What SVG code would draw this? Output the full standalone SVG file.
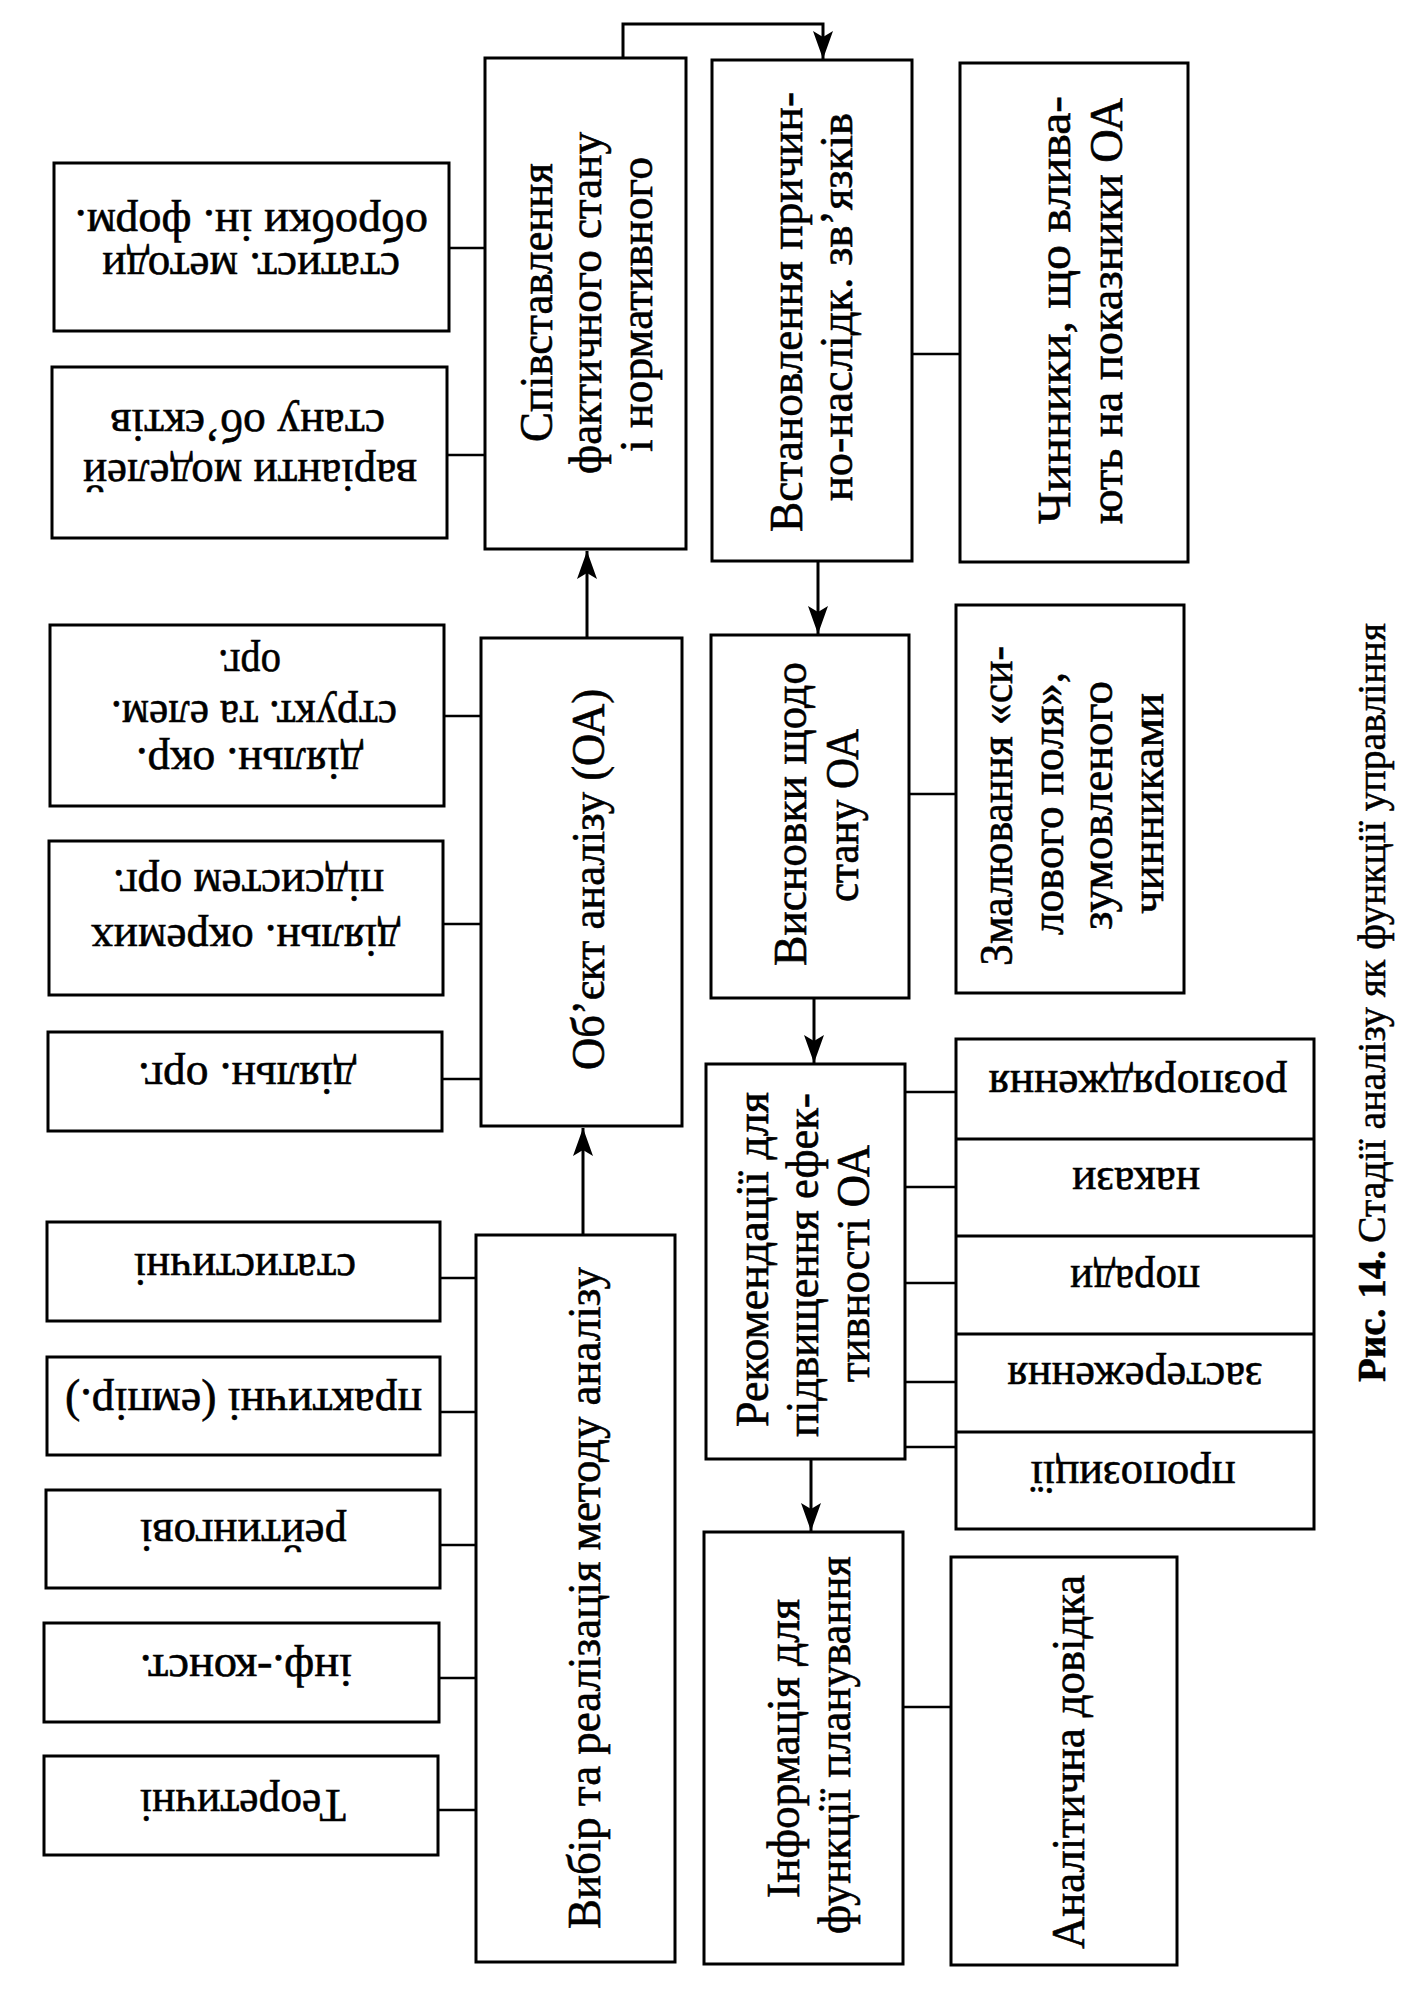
<svg xmlns="http://www.w3.org/2000/svg" width="1425" height="1996" viewBox="0 0 1425 1996">
<style>
  .box { fill: #ffffff; stroke: #000000; stroke-width: 3; }
  .conn { stroke: #000000; stroke-width: 2.5; fill: none; }
  .div { stroke: #000000; stroke-width: 3; fill: none; }
  .arr { stroke: #000000; stroke-width: 3; fill: none; }
  .t { font-family: "Liberation Serif", "Times New Roman", serif; font-size: 46px; fill: #000000; stroke: #000000; stroke-width: 0.6; text-anchor: middle; }
  .cap { font-family: "Liberation Serif", "Times New Roman", serif; font-size: 40px; fill: #000000; stroke: #000000; stroke-width: 0.5; }
  .capb { font-weight: bold; }
</style>
<defs>
  <marker id="ah" viewBox="0 0 28 20" refX="28" refY="10" markerWidth="28" markerHeight="20" markerUnits="userSpaceOnUse" orient="auto">
    <path d="M0,0 L28,10 L0,20 L6,10 Z" fill="#000000"/>
  </marker>
</defs>
<rect x="0" y="0" width="1425" height="1996" fill="#ffffff"/>

<g id="connectors">
  <line class="conn" x1="449" y1="248" x2="485" y2="248"/>
  <line class="conn" x1="447" y1="455" x2="485" y2="455"/>
  <line class="conn" x1="444" y1="716" x2="481" y2="716"/>
  <line class="conn" x1="443" y1="924" x2="481" y2="924"/>
  <line class="conn" x1="442" y1="1079" x2="481" y2="1079"/>
  <line class="conn" x1="440" y1="1278" x2="476" y2="1278"/>
  <line class="conn" x1="440" y1="1412" x2="476" y2="1412"/>
  <line class="conn" x1="440" y1="1545" x2="476" y2="1545"/>
  <line class="conn" x1="439" y1="1678" x2="476" y2="1678"/>
  <line class="conn" x1="438" y1="1810" x2="476" y2="1810"/>
  <line class="conn" x1="912" y1="354" x2="960" y2="354"/>
  <line class="conn" x1="909" y1="794" x2="956" y2="794"/>
  <line class="conn" x1="905" y1="1092" x2="956" y2="1092"/>
  <line class="conn" x1="905" y1="1187" x2="956" y2="1187"/>
  <line class="conn" x1="905" y1="1283" x2="956" y2="1283"/>
  <line class="conn" x1="905" y1="1382" x2="956" y2="1382"/>
  <line class="conn" x1="905" y1="1447" x2="956" y2="1447"/>
  <line class="conn" x1="903" y1="1707" x2="951" y2="1707"/>
  <line class="arr" x1="583" y1="1235" x2="583" y2="1128" marker-end="url(#ah)"/>
  <line class="arr" x1="587" y1="638" x2="587" y2="551" marker-end="url(#ah)"/>
  <path class="arr" d="M623,58 V24 H823 V59" marker-end="url(#ah)"/>
  <line class="arr" x1="818" y1="561" x2="818" y2="634" marker-end="url(#ah)"/>
  <line class="arr" x1="814" y1="998" x2="814" y2="1063" marker-end="url(#ah)"/>
  <line class="arr" x1="811" y1="1459" x2="811" y2="1531" marker-end="url(#ah)"/>
</g>

<g id="A1">
  <rect class="box" x="54" y="163" width="395" height="168"/>
  <text class="t" transform="translate(251,253) rotate(180)" textLength="298" lengthAdjust="spacingAndGlyphs">статист.  методи</text>
  <text class="t" transform="translate(251.5,210) rotate(180)" textLength="353" lengthAdjust="spacingAndGlyphs">обробки ін. форм.</text>
</g>
<g id="A2">
  <rect class="box" x="52" y="367" width="395" height="171"/>
  <text class="t" transform="translate(250,460) rotate(180)" textLength="334" lengthAdjust="spacingAndGlyphs">варіанти моделей</text>
  <text class="t" transform="translate(247.5,410) rotate(180)" textLength="275" lengthAdjust="spacingAndGlyphs">стану об’єктів</text>
</g>
<g id="A3">
  <rect class="box" x="50" y="625" width="394" height="181"/>
  <text class="t" transform="translate(249.5,748) rotate(180)" textLength="227" lengthAdjust="spacingAndGlyphs">діяльн. окр.</text>
  <text class="t" transform="translate(254,701) rotate(180)" textLength="286" lengthAdjust="spacingAndGlyphs">структ. та елем.</text>
  <text class="t" transform="translate(249.5,650) rotate(180)" textLength="63" lengthAdjust="spacingAndGlyphs">орг.</text>
</g>
<g id="A4">
  <rect class="box" x="49" y="841" width="394" height="154"/>
  <text class="t" transform="translate(245.5,925) rotate(180)" textLength="309" lengthAdjust="spacingAndGlyphs">діяльн. окремих</text>
  <text class="t" transform="translate(248.5,870) rotate(180)" textLength="271" lengthAdjust="spacingAndGlyphs">підсистем орг.</text>
</g>
<g id="A5">
  <rect class="box" x="48" y="1032" width="394" height="99"/>
  <text class="t" transform="translate(247,1063) rotate(180)" textLength="218" lengthAdjust="spacingAndGlyphs">діяльн. орг.</text>
</g>
<g id="A6">
  <rect class="box" x="47" y="1222" width="393" height="99"/>
  <text class="t" transform="translate(245,1254) rotate(180)" textLength="222" lengthAdjust="spacingAndGlyphs">статистичні</text>
</g>
<g id="A7">
  <rect class="box" x="47" y="1357" width="393" height="98"/>
  <text class="t" transform="translate(243.5,1389) rotate(180)" textLength="357" lengthAdjust="spacingAndGlyphs">практичні (емпір.)</text>
</g>
<g id="A8">
  <rect class="box" x="46" y="1490" width="394" height="98"/>
  <text class="t" transform="translate(243.5,1520) rotate(180)" textLength="207" lengthAdjust="spacingAndGlyphs">рейтингові</text>
</g>
<g id="A9">
  <rect class="box" x="44" y="1623" width="395" height="99"/>
  <text class="t" transform="translate(246,1655) rotate(180)" textLength="212" lengthAdjust="spacingAndGlyphs">інф.-конст.</text>
</g>
<g id="A10">
  <rect class="box" x="44" y="1756" width="394" height="99"/>
  <text class="t" transform="translate(243,1790) rotate(180)" textLength="206" lengthAdjust="spacingAndGlyphs">Теоретичні</text>
</g>

<g id="B1">
  <rect class="box" x="485" y="58" width="201" height="491"/>
  <text class="t" transform="translate(552,302.5) rotate(-90)" textLength="279" lengthAdjust="spacingAndGlyphs">Співставлення</text>
  <text class="t" transform="translate(601,303) rotate(-90)" textLength="342" lengthAdjust="spacingAndGlyphs">фактичного стану</text>
  <text class="t" transform="translate(652,304.5) rotate(-90)" textLength="295" lengthAdjust="spacingAndGlyphs">і нормативного</text>
</g>
<g id="B2">
  <rect class="box" x="481" y="638" width="201" height="488"/>
  <text class="t" transform="translate(604,879.5) rotate(-90)" textLength="381" lengthAdjust="spacingAndGlyphs">Об’єкт аналізу (ОА)</text>
</g>
<g id="B3">
  <rect class="box" x="476" y="1235" width="199" height="727"/>
  <text class="t" transform="translate(600,1598) rotate(-90)" textLength="662" lengthAdjust="spacingAndGlyphs">Вибір та реалізація методу аналізу</text>
</g>

<g id="C1">
  <rect class="box" x="712" y="60" width="200" height="501"/>
  <text class="t" transform="translate(802,312) rotate(-90)" textLength="440" lengthAdjust="spacingAndGlyphs">Встановлення причин-</text>
  <text class="t" transform="translate(852,307) rotate(-90)" textLength="388" lengthAdjust="spacingAndGlyphs">но-наслідк. зв’язків</text>
</g>
<g id="C2">
  <rect class="box" x="711" y="635" width="198" height="363"/>
  <text class="t" transform="translate(806,814) rotate(-90)" textLength="304" lengthAdjust="spacingAndGlyphs">Висновки щодо</text>
  <text class="t" transform="translate(858,815.5) rotate(-90)" textLength="173" lengthAdjust="spacingAndGlyphs">стану ОА</text>
</g>
<g id="C3">
  <rect class="box" x="706" y="1064" width="199" height="395"/>
  <text class="t" transform="translate(768,1259.5) rotate(-90)" textLength="335" lengthAdjust="spacingAndGlyphs">Рекомендації для</text>
  <text class="t" transform="translate(818,1265) rotate(-90)" textLength="344" lengthAdjust="spacingAndGlyphs">підвищення ефек-</text>
  <text class="t" transform="translate(869,1263.5) rotate(-90)" textLength="237" lengthAdjust="spacingAndGlyphs">тивності ОА</text>
</g>
<g id="C4">
  <rect class="box" x="704" y="1532" width="199" height="432"/>
  <text class="t" transform="translate(799,1748.5) rotate(-90)" textLength="299" lengthAdjust="spacingAndGlyphs">Інформація для</text>
  <text class="t" transform="translate(850,1745) rotate(-90)" textLength="378" lengthAdjust="spacingAndGlyphs">функції планування</text>
</g>

<g id="D1">
  <rect class="box" x="960" y="63" width="228" height="499"/>
  <text class="t" transform="translate(1070,310) rotate(-90)" textLength="428" lengthAdjust="spacingAndGlyphs">Чинники, що влива-</text>
  <text class="t" transform="translate(1122,311) rotate(-90)" textLength="426" lengthAdjust="spacingAndGlyphs">ють на показники ОА</text>
</g>
<g id="D2">
  <rect class="box" x="956" y="605" width="228" height="388"/>
  <text class="t" transform="translate(1012,806) rotate(-90)" textLength="320" lengthAdjust="spacingAndGlyphs">Змалювання «си-</text>
  <text class="t" transform="translate(1063,803.5) rotate(-90)" textLength="263" lengthAdjust="spacingAndGlyphs">лового поля»,</text>
  <text class="t" transform="translate(1112,805.5) rotate(-90)" textLength="249" lengthAdjust="spacingAndGlyphs">зумовленого</text>
  <text class="t" transform="translate(1163,803.5) rotate(-90)" textLength="221" lengthAdjust="spacingAndGlyphs">чинниками</text>
</g>
<g id="D3">
  <rect class="box" x="956" y="1039" width="358" height="490"/>
  <line class="div" x1="956" y1="1139" x2="1314" y2="1139"/>
  <line class="div" x1="956" y1="1236" x2="1314" y2="1236"/>
  <line class="div" x1="956" y1="1334" x2="1314" y2="1334"/>
  <line class="div" x1="956" y1="1432" x2="1314" y2="1432"/>
  <text class="t" transform="translate(1138,1071) rotate(180)" textLength="299" lengthAdjust="spacingAndGlyphs">розпорядження</text>
  <text class="t" transform="translate(1136,1168) rotate(180)" textLength="128" lengthAdjust="spacingAndGlyphs">накази</text>
  <text class="t" transform="translate(1135,1266) rotate(180)" textLength="130" lengthAdjust="spacingAndGlyphs">поради</text>
  <text class="t" transform="translate(1135,1363) rotate(180)" textLength="255" lengthAdjust="spacingAndGlyphs">застереження</text>
  <text class="t" transform="translate(1133,1462) rotate(180)" textLength="205" lengthAdjust="spacingAndGlyphs">пропозиції</text>
</g>
<g id="D4">
  <rect class="box" x="951" y="1557" width="226" height="408"/>
  <text class="t" transform="translate(1084,1762) rotate(-90)" textLength="374" lengthAdjust="spacingAndGlyphs">Аналітична довідка</text>
</g>

<g id="caption">
  <text class="cap capb" transform="translate(1385,1382) rotate(-90)" textLength="132" lengthAdjust="spacingAndGlyphs">Рис. 14.</text>
  <text class="cap" transform="translate(1385,1243) rotate(-90)" textLength="620" lengthAdjust="spacingAndGlyphs">Стадії аналізу як функції управління</text>
</g>
</svg>
